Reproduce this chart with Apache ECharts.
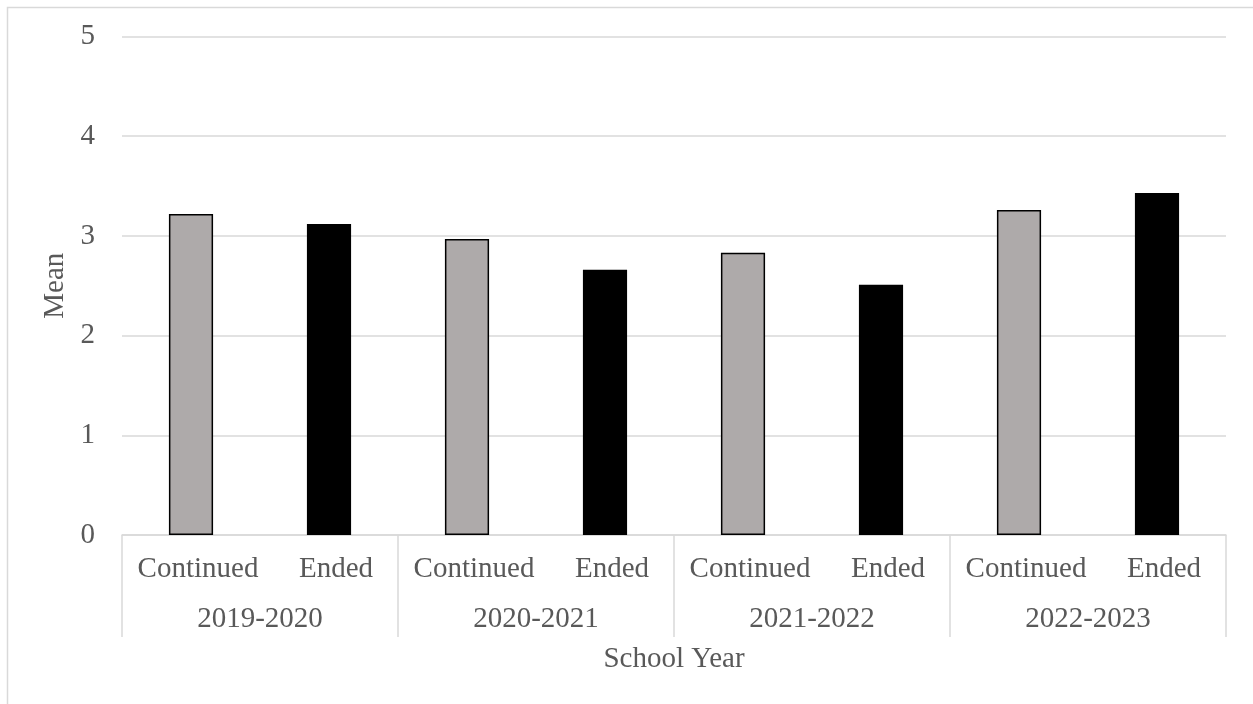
<!DOCTYPE html>
<html>
<head>
<meta charset="utf-8">
<script src="https://cdn.jsdelivr.net/npm/echarts@6/dist/echarts.min.js"></script>
<style>html,body{margin:0;padding:0;background:#fff}#c{width:1253px;height:704px}</style>
</head>
<body>
<div id="c"></div>
<script>
const subCategories = ['Continued','Ended','Continued','Ended','Continued','Ended','Continued','Ended'];
const years = ['2019-2020','2020-2021','2021-2022','2022-2023'];
const means = [3.22, 3.12, 2.97, 2.66, 2.83, 2.51, 3.26, 3.43];
const yTicks = [0,1,2,3,4,5];

const FONT = '"Liberation Serif","Times New Roman",serif';
const TXT = '#595959';
const colorFor = {Continued:'#AEAAAA', Ended:'#000000'};

const chart = echarts.init(document.getElementById('c'));
chart.setOption({
  animation:false,
  backgroundColor:'#fff',
  graphic:[{type:'rect',shape:{x:7.5,y:7.5,width:1270,height:720},style:{fill:'none',stroke:'#d9d9d9',lineWidth:1.5},silent:true}],
  grid:{left:122,right:27,top:36.5,bottom:169},
  xAxis:[
    {type:'category',data:subCategories,position:'bottom',
     axisLine:{show:false},axisTick:{show:false},
     axisLabel:{color:TXT,fontFamily:FONT,fontSize:29,margin:20,interval:0,padding:[0,0,0,14]}},
    {type:'category',data:years,position:'bottom',
     axisLine:{show:true,lineStyle:{color:'#d9d9d9',width:1.5}},
     axisTick:{show:true,inside:false,length:102,lineStyle:{color:'#d9d9d9',width:1.5}},
     axisLabel:{color:TXT,fontFamily:FONT,fontSize:29,margin:70,interval:0},
     name:'School Year',nameLocation:'middle',nameGap:110,
     nameTextStyle:{color:TXT,fontFamily:FONT,fontSize:29}}
  ],
  yAxis:{type:'value',min:0,max:5,interval:1,
    axisLine:{show:false},axisTick:{show:false},
    splitLine:{lineStyle:{color:'#d9d9d9',width:1.5}},
    axisLabel:{color:TXT,fontFamily:FONT,fontSize:29,margin:27,formatter:v=>yTicks.includes(v)?String(v):''},
    name:'Mean',nameLocation:'middle',nameGap:52,nameRotate:90,
    nameTextStyle:{color:TXT,fontFamily:FONT,fontSize:29}},
  series:[{type:'bar',xAxisIndex:0,barWidth:'32%',
    data:means.map((v,i)=>({value:v,itemStyle:{color:colorFor[subCategories[i]],borderColor:'#000',borderWidth:1.5}}))}]
});
</script>
</body>
</html>
